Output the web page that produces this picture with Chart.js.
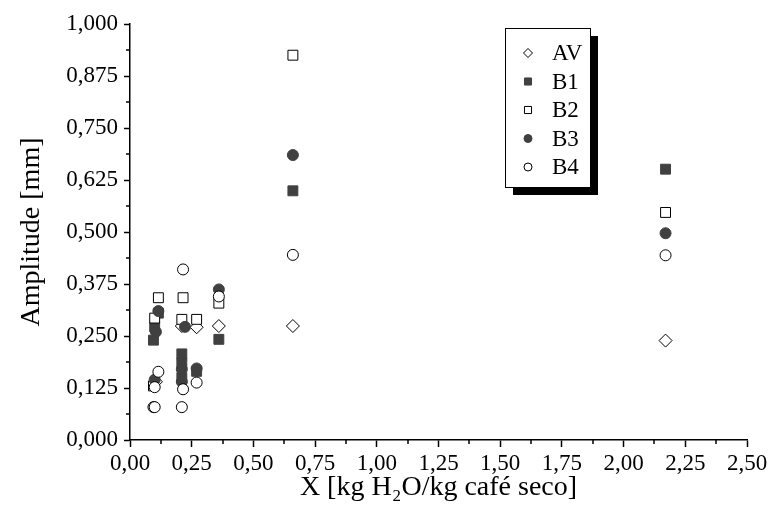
<!DOCTYPE html>
<html>
<head>
<meta charset="utf-8">
<script src="https://cdn.jsdelivr.net/npm/chart.js@4.4.1/dist/chart.umd.min.js"></script>
<style>
  html, body { margin: 0; padding: 0; background: #ffffff; }
  #wrap { width: 775px; height: 521px; }
</style>
</head>
<body>
<div id="wrap"><canvas id="c" width="775" height="521"></canvas></div>
<script>
// ---- data ----
const seriesNames = ["AV", "B1", "B2", "B3", "B4"];

const AV_x = [0.105, 0.21, 0.27, 0.36, 0.66, 2.17];
const AV_y = [0.140, 0.274, 0.271, 0.274, 0.274, 0.239];

const B1_x = [0.095, 0.10, 0.115, 0.21, 0.21, 0.21, 0.27, 0.36, 0.66, 2.17];
const B1_y = [0.240, 0.272, 0.305, 0.207, 0.185, 0.150, 0.165, 0.242, 0.599, 0.651];

const B2_x = [0.095, 0.10, 0.115, 0.215, 0.21, 0.27, 0.36, 0.66, 2.17];
const B2_y = [0.130, 0.293, 0.342, 0.342, 0.290, 0.290, 0.329, 0.925, 0.547];

const B3_x = [0.10, 0.105, 0.115, 0.21, 0.223, 0.21, 0.27, 0.36, 0.66, 2.17];
const B3_y = [0.145, 0.260, 0.310, 0.170, 0.272, 0.140, 0.172, 0.362, 0.685, 0.497];

const B4_x = [0.095, 0.10, 0.10, 0.115, 0.215, 0.215, 0.21, 0.27, 0.36, 0.66, 2.17];
const B4_y = [0.079, 0.079, 0.127, 0.164, 0.410, 0.122, 0.079, 0.138, 0.345, 0.445, 0.444];

const xTicksMin = 0, xTicksMax = 2.5, xStep = 0.25;
const yTicksMin = 0, yTicksMax = 1.0, yStep = 0.125;

const xTitle = "X [kg H\u2082O/kg café seco]";
const yTitle = "Amplitude [mm]";

// ---- styling ----
const FONT = "'Liberation Serif', 'Times New Roman', serif";
const DARK = "#404040";

function pts(xs, ys) { return xs.map((x, i) => ({ x: x, y: ys[i] })); }

const styles = [
  { pointStyle: "rectRot", radius: 6.5, bg: "#ffffff", border: "#000000", lr: 4.5 },
  { pointStyle: "rect",    radius: 7,   bg: DARK,      border: DARK,      lr: 5 },
  { pointStyle: "rect",    radius: 7,   bg: "#ffffff", border: "#000000", lr: 5 },
  { pointStyle: "circle",  radius: 5.5, bg: DARK,      border: DARK,      lr: 4 },
  { pointStyle: "circle",  radius: 5.5, bg: "#ffffff", border: "#000000", lr: 4 }
];
const allX = [AV_x, B1_x, B2_x, B3_x, B4_x];
const allY = [AV_y, B1_y, B2_y, B3_y, B4_y];

const datasets = seriesNames.map((name, i) => ({
  label: name,
  data: pts(allX[i], allY[i]),
  pointStyle: styles[i].pointStyle,
  pointRadius: styles[i].radius,
  pointHoverRadius: styles[i].radius,
  pointBackgroundColor: styles[i].bg,
  pointBorderColor: styles[i].border,
  pointBorderWidth: 1,
  showLine: false,
  order: seriesNames.length - i
}));

function drawMarker(ctx, style, r, x, y, bg, border) {
  ctx.save();
  ctx.fillStyle = bg; ctx.strokeStyle = border; ctx.lineWidth = 1;
  ctx.beginPath();
  if (style === "circle") {
    ctx.arc(x, y, r, 0, Math.PI * 2);
  } else if (style === "rect") {
    const s = r * Math.SQRT1_2;
    ctx.rect(x - s, y - s, 2 * s, 2 * s);
  } else {
    ctx.moveTo(x, y - r); ctx.lineTo(x + r, y); ctx.lineTo(x, y + r); ctx.lineTo(x - r, y); ctx.closePath();
  }
  ctx.fill(); ctx.stroke();
  ctx.restore();
}

// legend box with drop shadow, drawn from the dataset styles
const legendBox = {
  id: "legendBox",
  afterDraw(chart) {
    const ctx = chart.ctx;
    const L = 505, T = 28, W = 85, H = 159, sh = 8;
    ctx.save();
    ctx.fillStyle = "#000";
    ctx.fillRect(L + sh, T + sh, W, H);
    ctx.fillStyle = "#fff";
    ctx.fillRect(L, T, W, H);
    ctx.strokeStyle = "#000"; ctx.lineWidth = 1;
    ctx.strokeRect(L + 0.5, T + 0.5, W, H);
    ctx.font = "23px " + FONT;
    ctx.fillStyle = "#000";
    ctx.textBaseline = "middle";
    ctx.textAlign = "left";
    seriesNames.forEach((name, i) => {
      const y = 53 + i * 28.5;
      drawMarker(ctx, styles[i].pointStyle, styles[i].lr, 528, y, styles[i].bg, styles[i].border);
      ctx.fillText(name, 552, y + 1);
    });
    ctx.restore();
  }
};

// minor ticks halfway between major ticks
const minorTicks = {
  id: "minorTicks",
  afterDraw(chart) {
    const ctx = chart.ctx;
    ctx.save();
    ctx.strokeStyle = "#000"; ctx.lineWidth = 1.5;
    const xs = chart.scales.x, ys = chart.scales.y;
    for (let i = 0; i < xs.ticks.length - 1; i++) {
      const v = (xs.ticks[i].value + xs.ticks[i + 1].value) / 2;
      const p = Math.round(xs.getPixelForValue(v));
      ctx.beginPath(); ctx.moveTo(p, xs.top); ctx.lineTo(p, xs.top + 4); ctx.stroke();
    }
    for (let i = 0; i < ys.ticks.length - 1; i++) {
      const v = (ys.ticks[i].value + ys.ticks[i + 1].value) / 2;
      const p = Math.round(ys.getPixelForValue(v));
      ctx.beginPath(); ctx.moveTo(ys.right, p); ctx.lineTo(ys.right - 4, p); ctx.stroke();
    }
    ctx.restore();
  }
};

new Chart(document.getElementById("c"), {
  type: "scatter",
  data: { datasets: datasets },
  options: {
    responsive: false,
    animation: false,
    devicePixelRatio: 1,
    layout: { padding: { top: 24, right: 28, bottom: 0, left: 0 } },
    plugins: { legend: { display: false }, tooltip: { enabled: false } },
    scales: {
      x: {
        type: "linear",
        min: xTicksMin, max: xTicksMax,
        border: { display: true, color: "#000", width: 1.5 },
        grid: { drawOnChartArea: false, drawTicks: true, tickLength: 7, tickColor: "#000", tickWidth: 1.5 },
        ticks: {
          stepSize: xStep, color: "#000", padding: 3,
          font: { family: FONT, size: 23 },
          maxRotation: 0, autoSkip: false,
          callback: v => Number(v).toFixed(2).replace(".", ",")
        },
        title: { display: true, text: xTitle, color: "#000", font: { family: FONT, size: 28 }, padding: { top: 0, bottom: 17 } },
        afterFit: s => { s.height = 81; }
      },
      y: {
        type: "linear",
        min: yTicksMin, max: yTicksMax,
        border: { display: true, color: "#000", width: 1.5 },
        grid: { drawOnChartArea: false, drawTicks: true, tickLength: 6, tickColor: "#000", tickWidth: 1.5 },
        ticks: {
          stepSize: yStep, color: "#000", padding: 6,
          font: { family: FONT, size: 23 },
          autoSkip: false,
          callback: v => Number(v).toFixed(3).replace(".", ",")
        },
        title: { display: true, text: yTitle, color: "#000", font: { family: FONT, size: 28 }, padding: { top: 15, bottom: 0 } },
        afterFit: s => { s.width = 130; }
      }
    }
  },
  plugins: [minorTicks, legendBox]
});
</script>
</body>
</html>
